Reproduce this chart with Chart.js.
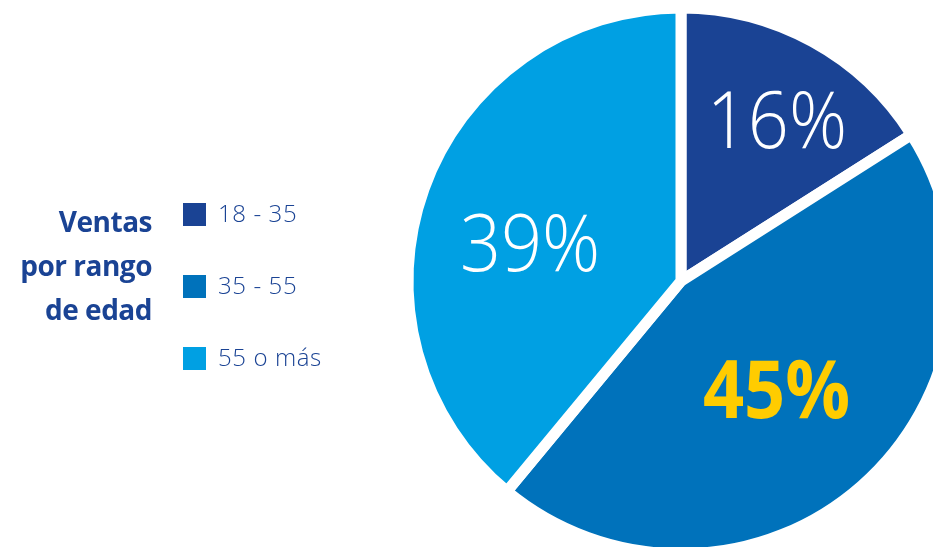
<!DOCTYPE html>
<html>
<head>
<meta charset="utf-8">
<script src="https://cdn.jsdelivr.net/npm/chart.js@4"></script>
<style>
  html, body { margin: 0; width: 933px; height: 547px; overflow: hidden; background: #fff; }
  #wrap { position: absolute; left: 0; top: 0; width: 1100px; height: 700px; }
  #title {
    position: absolute; right: calc(933px - 152px); top: 199px;
    font-family: 'Open Sans', sans-serif; font-weight: 700; font-size: 28px;
    line-height: 44px; color: #1a4394; text-align: right; letter-spacing: -0.5px;
  }
  #legend { position: absolute; left: 183px; top: 203px; font-family: 'Open Sans', sans-serif; }
  .item { position: relative; height: 72px; }
  .box { position: absolute; left: 0; top: 0; width: 23px; height: 23px; }
  .lbl { position: absolute; left: 35px; top: -7px; font-size: 24px; font-weight: 300; color: #1a4394; white-space: nowrap; letter-spacing: 0.6px; }
</style>
</head>
<body>
<div id="wrap"><canvas id="chart"></canvas></div>
<div id="title">Ventas<br>por rango<br>de edad</div>
<div id="legend"></div>
<script>
const categories = ['18 - 35', '35 - 55', '55 o más'];
const shares = [16, 45, 39];
const colors = ['#1a4394', '#0072bb', '#00a0e3'];

// legend built from the same arrays
const legend = document.getElementById('legend');
categories.forEach((c, i) => {
  const item = document.createElement('div');
  item.className = 'item';
  item.innerHTML = '<div class="box" style="background:' + colors[i] + '"></div><div class="lbl">' + c + '</div>';
  legend.appendChild(item);
});

const sliceLabels = {
  id: 'sliceLabels',
  afterDatasetsDraw(chart, args, opts) {
    const ctx = chart.ctx;
    chart.getDatasetMeta(0).data.forEach((arc, i) => {
      const p = arc.getProps(['x', 'y', 'startAngle', 'endAngle', 'outerRadius'], true);
      const mid = (p.startAngle + p.endAngle) / 2 + opts.shift[i] * Math.PI / 180;
      const r = p.outerRadius * opts.dist[i];
      const x = p.x + Math.cos(mid) * r;
      const y = p.y + Math.sin(mid) * r;
      ctx.save();
      ctx.font = opts.fonts[i];
      ctx.fillStyle = opts.colors[i];
      ctx.textAlign = 'center';
      ctx.textBaseline = 'alphabetic';
      ctx.translate(x, y);
      ctx.scale(0.9, 1);
      ctx.fillText(shares[i] + '%', 0, 29); // half the cap height
      ctx.restore();
    });
  }
};

new Chart(document.getElementById('chart'), {
  type: 'pie',
  data: {
    labels: categories,
    datasets: [{
      data: shares,
      backgroundColor: colors,
      borderColor: '#ffffff',
      borderWidth: 11,
      radius: 273
    }]
  },
  options: {
    responsive: true,
    maintainAspectRatio: false,
    animation: false,
    layout: { padding: { left: 401, top: 1, right: 139, bottom: 139 } },
    plugins: {
      legend: { display: false },
      tooltip: { enabled: false },
      sliceLabels: {
        dist: [0.69, 0.529, 0.571],
        shift: [1.8, 0, -5.3],
        fonts: ['300 80px "Open Sans"', '700 80px "Open Sans"', '300 80px "Open Sans"'],
        colors: ['#ffffff', '#ffcc00', '#ffffff']
      }
    }
  },
  plugins: [sliceLabels]
});
</script>
</body>
</html>
